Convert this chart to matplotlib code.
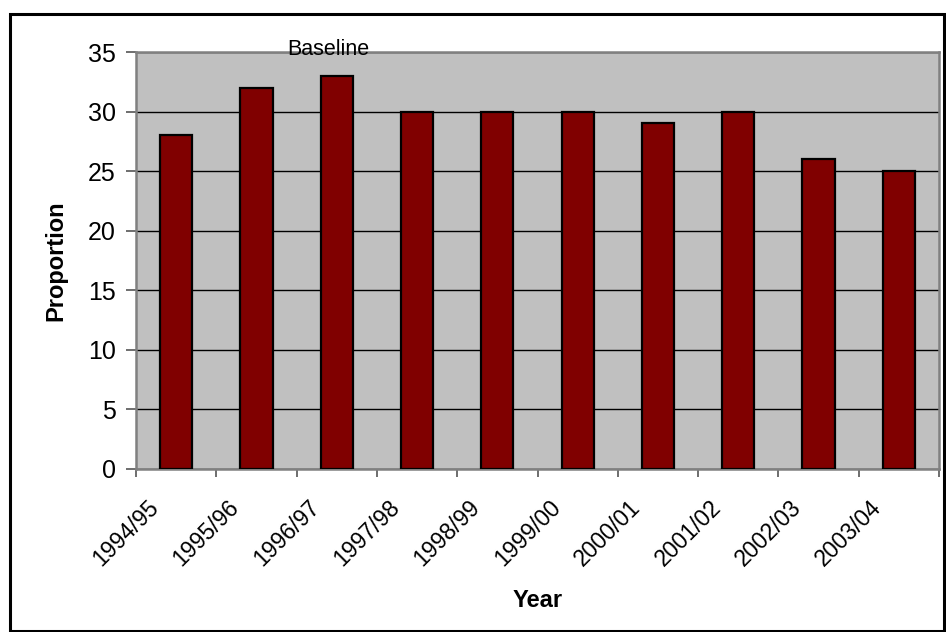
import matplotlib
matplotlib.use("Agg")
import matplotlib.pyplot as plt
from matplotlib.patches import Rectangle
from matplotlib.transforms import ScaledTranslation

years = ["1994/95", "1995/96", "1996/97", "1997/98", "1998/99",
         "1999/00", "2000/01", "2001/02", "2002/03", "2003/04"]
proportion = [28, 32, 33, 30, 30, 30, 29, 30, 26, 25]
baseline_year = "1996/97"
yticks = [0, 5, 10, 15, 20, 25, 30, 35]

plt.rcParams["font.family"] = ["Liberation Sans", "DejaVu Sans"]

W, H = 946, 632
fig = plt.figure(figsize=(W / 100, H / 100), dpi=100)

# chart frame
fig.patches.append(Rectangle((10 / W, 1 / H), 934 / W, 617 / H,
                             transform=fig.transFigure, fill=False,
                             edgecolor="black", linewidth=2.2))

left, right, top, bottom = 136, 939, 52, 469
ax = fig.add_axes([left / W, 1 - bottom / H, (right - left) / W, (bottom - top) / H])
ax.set_facecolor("#C0C0C0")

x = list(range(len(years)))
ax.bar(x, proportion, width=0.4, color="#800000", edgecolor="black",
       linewidth=1.6, zorder=3)

ax.set_xlim(-0.5, len(years) - 0.5)
ax.set_ylim(0, 35)
ax.set_yticks(yticks)
ax.set_yticklabels([str(v) for v in yticks], fontsize=18)
ax.yaxis.grid(True, color="black", linewidth=1.0, zorder=1)
ax.set_axisbelow(True)

# category labels at centres, tick marks between categories
ax.set_xticks(x)
ax.set_xticklabels(years, fontsize=16.5, rotation=45, ha="right", va="center",
                   rotation_mode="anchor")
ax.tick_params(axis="x", length=0, pad=25)
offset = ScaledTranslation(-15 / 72, 0, fig.dpi_scale_trans)
for lbl in ax.get_xticklabels():
    lbl.set_transform(lbl.get_transform() + offset)
ax.set_xticks([i - 0.5 for i in range(len(years) + 1)], minor=True)
ax.tick_params(axis="x", which="minor", length=5.5, width=1.2, color="#555555")
ax.tick_params(axis="y", length=7.5, width=1.2, color="#555555", pad=7)

for side in ["left", "right", "top", "bottom"]:
    ax.spines[side].set_color("#808080")
    ax.spines[side].set_linewidth(1.8)

ax.set_ylabel("Proportion", fontsize=17, fontweight="bold", labelpad=15)
ax.set_xlabel("Year", fontsize=17, fontweight="bold", labelpad=13)

bi = years.index(baseline_year)
ax.annotate("Baseline", xy=(bi, 35), xytext=(-6, -2), textcoords="offset points",
            ha="center", va="baseline", fontsize=15.5, zorder=5,
            annotation_clip=False)

fig.savefig("out.png", dpi=100)
